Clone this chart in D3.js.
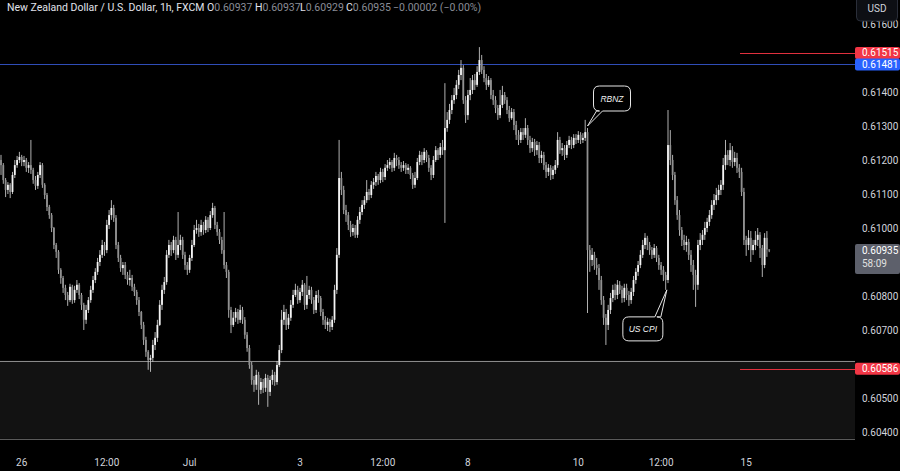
<!DOCTYPE html>
<html><head><meta charset="utf-8">
<script src="https://cdn.jsdelivr.net/npm/d3@7/dist/d3.min.js"></script>
<style>body{margin:0;background:#000;overflow:hidden}svg{display:block}</style>
</head><body>
<svg id="chart" width="900" height="471"></svg>
<script>
// ---- data (NZD/USD, 1h, FXCM) ----
const firstOpen = 0.61200;
const closes = [
0.61185,0.61141,0.61112,0.61127,0.61106,0.61156,0.61185,0.61200,0.61209,0.61194,
0.61200,0.61177,0.61185,0.61171,0.61141,0.61124,0.61156,0.61185,0.61127,0.61097,
0.61062,0.61038,0.61000,0.60950,0.60930,0.60877,0.60853,0.60824,0.60803,0.60788,
0.60827,0.60788,0.60818,0.60833,0.60803,0.60774,0.60730,0.60759,0.60788,0.60818,
0.60847,0.60871,0.60900,0.60921,0.60950,0.60935,0.61009,0.61038,0.61059,0.61030,
0.60950,0.60912,0.60882,0.60891,0.60862,0.60847,0.60853,0.60827,0.60812,0.60788,
0.60753,0.60715,0.60671,0.60636,0.60612,0.60618,0.60656,0.60677,0.60715,0.60774,
0.60818,0.60841,0.60921,0.60950,0.60935,0.60965,0.60921,0.60950,0.60965,0.60921,
0.60891,0.60877,0.60912,0.60950,0.60994,0.61000,0.60988,0.61009,0.60994,0.61024,
0.61000,0.61038,0.61059,0.61009,0.60988,0.60965,0.60935,0.60891,0.60871,0.60759,
0.60715,0.60736,0.60753,0.60730,0.60759,0.60730,0.60686,0.60647,0.60597,0.60553,
0.60539,0.60568,0.60524,0.60547,0.60530,0.60559,0.60518,0.60553,0.60568,0.60547,
0.60597,0.60641,0.60730,0.60753,0.60715,0.60736,0.60774,0.60803,0.60818,0.60788,
0.60812,0.60833,0.60774,0.60803,0.60818,0.60788,0.60759,0.60803,0.60794,0.60753,
0.60730,0.60715,0.60724,0.60709,0.60730,0.60818,0.60921,0.61147,0.61112,0.61053,
0.61038,0.61009,0.60988,0.61000,0.60980,0.61024,0.61047,0.61068,0.61082,0.61106,
0.61097,0.61127,0.61135,0.61153,0.61141,0.61165,0.61150,0.61177,0.61185,0.61194,
0.61177,0.61206,0.61200,0.61185,0.61177,0.61185,0.61171,0.61177,0.61156,0.61127,
0.61147,0.61194,0.61215,0.61200,0.61224,0.61206,0.61177,0.61156,0.61200,0.61229,
0.61215,0.61238,0.61229,0.61294,0.61318,0.61347,0.61376,0.61391,0.61421,0.61450,
0.61471,0.61376,0.61332,0.61391,0.61406,0.61435,0.61421,0.61459,0.61494,0.61465,
0.61441,0.61421,0.61435,0.61391,0.61376,0.61353,0.61332,0.61362,0.61391,0.61376,
0.61347,0.61323,0.61341,0.61303,0.61274,0.61259,0.61282,0.61274,0.61294,0.61259,
0.61235,0.61253,0.61229,0.61244,0.61206,0.61215,0.61185,0.61165,0.61177,0.61156,
0.61171,0.61185,0.61259,0.61229,0.61235,0.61215,0.61244,0.61259,0.61244,0.61265,
0.61259,0.61274,0.61259,0.61265,0.61282,0.60935,0.60906,0.60921,0.60891,0.60882,
0.60847,0.60788,0.60736,0.60715,0.60759,0.60794,0.60818,0.60803,0.60833,0.60818,
0.60794,0.60824,0.60803,0.60788,0.60812,0.60847,0.60871,0.60891,0.60921,0.60950,
0.60971,0.60950,0.60935,0.60921,0.60941,0.60912,0.60891,0.60877,0.60862,0.60847,
0.61244,0.61200,0.61156,0.61082,0.61038,0.60994,0.60965,0.60950,0.60959,0.60921,
0.60891,0.60862,0.60833,0.60950,0.60965,0.60980,0.61000,0.61018,0.61038,0.61068,
0.61082,0.61097,0.61112,0.61127,0.61185,0.61215,0.61200,0.61229,0.61194,0.61206,
0.61177,0.61165,0.61106,0.60965,0.60950,0.60971,0.60935,0.60950,0.60965,0.60980,
0.60941,0.60891,0.60971,0.60937,0.60935
];
const highs = [
0.61215,0.61191,0.61147,0.61135,0.61132,0.61165,0.61200,0.61212,0.61224,0.61215,
0.61212,0.61206,0.61194,0.61259,0.61177,0.61153,0.61165,0.61194,0.61191,0.61132,
0.61103,0.61068,0.61044,0.61003,0.60956,0.60935,0.60882,0.60859,0.60833,0.60812,
0.60836,0.60833,0.60830,0.60847,0.60838,0.60809,0.60780,0.60774,0.60797,0.60830,
0.60859,0.60882,0.60912,0.60935,0.60965,0.60959,0.61024,0.61053,0.61082,0.61068,
0.61038,0.60959,0.60921,0.60900,0.60900,0.60871,0.60877,0.60862,0.60836,0.60818,
0.60797,0.60756,0.60724,0.60680,0.60641,0.60627,0.60671,0.60694,0.60730,0.60788,
0.60833,0.60856,0.60935,0.60965,0.60959,0.60977,0.60974,0.61047,0.60980,0.60974,
0.60930,0.60900,0.60921,0.60965,0.61009,0.61024,0.61012,0.61024,0.61018,0.61035,
0.61032,0.61050,0.61074,0.61065,0.61018,0.60997,0.60974,0.61047,0.60900,0.60877,
0.60768,0.60753,0.60765,0.60762,0.60774,0.60768,0.60738,0.60694,0.60656,0.60606,
0.60565,0.60583,0.60577,0.60559,0.60556,0.60571,0.60568,0.60565,0.60583,0.60577,
0.60609,0.60656,0.60759,0.60774,0.60762,0.60747,0.60788,0.60818,0.60836,0.60830,
0.60824,0.60847,0.60838,0.60859,0.60830,0.60827,0.60797,0.60815,0.60818,0.60800,
0.60762,0.60741,0.60736,0.60733,0.60741,0.60833,0.60941,0.61259,0.61165,0.61124,
0.61068,0.61047,0.61021,0.61012,0.61009,0.61035,0.61062,0.61082,0.61094,0.61141,
0.61115,0.61138,0.61147,0.61165,0.61159,0.61177,0.61174,0.61188,0.61200,0.61206,
0.61200,0.61221,0.61215,0.61209,0.61194,0.61197,0.61191,0.61188,0.61182,0.61162,
0.61165,0.61206,0.61227,0.61224,0.61235,0.61229,0.61215,0.61185,0.61212,0.61241,
0.61235,0.61250,0.61259,0.61426,0.61341,0.61365,0.61391,0.61412,0.61435,0.61465,
0.61494,0.61479,0.61388,0.61406,0.61441,0.61450,0.61453,0.61476,0.61532,0.61509,
0.61476,0.61453,0.61447,0.61441,0.61406,0.61388,0.61362,0.61406,0.61418,0.61400,
0.61385,0.61359,0.61353,0.61350,0.61315,0.61288,0.61294,0.61294,0.61323,0.61303,
0.61271,0.61265,0.61262,0.61256,0.61253,0.61227,0.61224,0.61194,0.61188,0.61185,
0.61182,0.61200,0.61282,0.61268,0.61250,0.61244,0.61256,0.61271,0.61268,0.61276,
0.61276,0.61285,0.61282,0.61279,0.61318,0.61294,0.60950,0.60941,0.60930,0.60912,
0.60894,0.60859,0.60800,0.60747,0.60774,0.60809,0.60833,0.60836,0.60847,0.60844,
0.60830,0.60836,0.60836,0.60815,0.60824,0.60859,0.60882,0.60903,0.60935,0.60965,
0.60985,0.60977,0.60959,0.60944,0.60953,0.60947,0.60921,0.60900,0.60888,0.60871,
0.61347,0.61288,0.61215,0.61165,0.61094,0.61053,0.61003,0.60980,0.60977,0.60968,
0.60935,0.60906,0.60877,0.60965,0.60985,0.60994,0.61018,0.61030,0.61053,0.61082,
0.61100,0.61118,0.61127,0.61141,0.61206,0.61259,0.61229,0.61250,0.61241,0.61224,
0.61221,0.61188,0.61177,0.61118,0.60977,0.60994,0.60991,0.60965,0.60991,0.61000,
0.60988,0.60950,0.60985,0.60991,0.60937
];
const lows = [
0.61156,0.61130,0.61091,0.61100,0.61088,0.61100,0.61147,0.61177,0.61191,0.61182,
0.61182,0.61165,0.61162,0.61159,0.61130,0.61112,0.61115,0.61147,0.61118,0.61085,
0.61050,0.61027,0.60988,0.60938,0.60912,0.60865,0.60836,0.60809,0.60788,0.60771,
0.60782,0.60777,0.60780,0.60809,0.60791,0.60759,0.60700,0.60718,0.60750,0.60780,
0.60809,0.60838,0.60862,0.60888,0.60912,0.60918,0.60926,0.60997,0.61024,0.61018,
0.60938,0.60900,0.60871,0.60862,0.60850,0.60833,0.60830,0.60815,0.60800,0.60774,
0.60741,0.60703,0.60656,0.60621,0.60583,0.60577,0.60606,0.60641,0.60665,0.60712,
0.60759,0.60806,0.60833,0.60912,0.60918,0.60926,0.60906,0.60912,0.60935,0.60909,
0.60877,0.60862,0.60868,0.60903,0.60944,0.60983,0.60974,0.60977,0.60980,0.60985,
0.60988,0.60994,0.61030,0.60997,0.60977,0.60953,0.60924,0.60880,0.60853,0.60736,
0.60691,0.60709,0.60724,0.60718,0.60721,0.60718,0.60674,0.60636,0.60586,0.60539,
0.60518,0.60524,0.60480,0.60512,0.60515,0.60518,0.60474,0.60506,0.60539,0.60536,
0.60539,0.60591,0.60632,0.60715,0.60700,0.60703,0.60727,0.60765,0.60797,0.60777,
0.60780,0.60800,0.60759,0.60762,0.60791,0.60777,0.60747,0.60750,0.60780,0.60741,
0.60715,0.60703,0.60697,0.60694,0.60700,0.60721,0.60806,0.60912,0.61097,0.61041,
0.61018,0.60994,0.60974,0.60977,0.60971,0.60971,0.61012,0.61038,0.61056,0.61074,
0.61082,0.61088,0.61115,0.61124,0.61127,0.61132,0.61135,0.61141,0.61168,0.61174,
0.61165,0.61168,0.61182,0.61174,0.61165,0.61168,0.61159,0.61159,0.61144,0.61115,
0.61118,0.61141,0.61185,0.61185,0.61191,0.61194,0.61165,0.61141,0.61147,0.61194,
0.61200,0.61206,0.61215,0.61015,0.61283,0.61306,0.61335,0.61365,0.61379,0.61409,
0.61435,0.61365,0.61309,0.61318,0.61376,0.61394,0.61406,0.61415,0.61450,0.61453,
0.61429,0.61406,0.61415,0.61379,0.61362,0.61338,0.61318,0.61323,0.61353,0.61365,
0.61335,0.61312,0.61318,0.61288,0.61259,0.61244,0.61250,0.61259,0.61265,0.61244,
0.61221,0.61224,0.61212,0.61215,0.61191,0.61191,0.61171,0.61147,0.61153,0.61141,
0.61144,0.61159,0.61177,0.61218,0.61212,0.61200,0.61206,0.61235,0.61232,0.61235,
0.61247,0.61250,0.61247,0.61250,0.61256,0.60750,0.60871,0.60888,0.60877,0.60862,
0.60818,0.60774,0.60715,0.60656,0.60700,0.60747,0.60782,0.60788,0.60791,0.60806,
0.60780,0.60782,0.60788,0.60771,0.60777,0.60800,0.60836,0.60859,0.60882,0.60912,
0.60938,0.60935,0.60921,0.60909,0.60912,0.60900,0.60877,0.60862,0.60844,0.60818,
0.60838,0.61185,0.61141,0.61068,0.61024,0.60977,0.60947,0.60935,0.60930,0.60906,
0.60871,0.60818,0.60768,0.60818,0.60935,0.60950,0.60965,0.60988,0.61006,0.61027,
0.61053,0.61068,0.61082,0.61097,0.61112,0.61171,0.61185,0.61182,0.61177,0.61182,
0.61162,0.61147,0.61094,0.60950,0.60918,0.60935,0.60900,0.60921,0.60935,0.60947,
0.60912,0.60856,0.60882,0.60915,0.60929
];
const xTickIndex  = [9, 46, 82, 130, 166, 203, 251, 287, 324];
const xTickLabels = ["26", "12:00", "Jul", "3", "12:00", "8", "10", "12:00", "15"];
// visible price-axis ticks (0.60600, 0.60900 and 0.61500 sit behind the price labels)
const yTicks = [0.604, 0.605, 0.607, 0.608, 0.610, 0.611, 0.612, 0.613, 0.614, 0.616];
const supportZone = [0.60380, 0.60610];
const resistanceLevel = 0.61481;
const redLevels = [0.61515, 0.60586];
const lastPrice = 0.60935;
const countdown = "58:09";
const ohlcLast = {o: "0.60937", h: "0.60937", l: "0.60929", c: "0.60935", chg: "\u22120.00002 (\u22120.00%)"};
const title = "New Zealand Dollar / U.S. Dollar, 1h, FXCM";
const events = [
  {label: "RBNZ", index: 255, price: 0.61300, side: "below"},
  {label: "US CPI", index: 289.5, price: 0.60818, side: "above"}
];

// ---- build ----
const candles = closes.map((c, i) => ({i, o: i === 0 ? firstOpen : closes[i - 1], h: highs[i], l: lows[i], c}));

const W = 900, H = 471, plotR = 855, plotB = 440;
const svg = d3.select("#chart");
svg.append("rect").attr("width", W).attr("height", H).attr("fill", "#000");

const x = d3.scaleLinear().domain([0, 370]).range([1, 852]);
const y = d3.scaleLinear().domain([0.603765, 0.616706]).range([plotB, 0]);
const py = v => Math.round(y(v)) + 0.5;

// support zone
const zone = svg.append("g");
zone.append("rect").attr("x", 0).attr("width", plotR)
  .attr("y", y(supportZone[1])).attr("height", y(supportZone[0]) - y(supportZone[1]))
  .attr("fill", "#121212");
zone.append("line").attr("x1", 0).attr("x2", plotR).attr("y1", py(supportZone[1])).attr("y2", py(supportZone[1]))
  .attr("stroke", "#8a8a8a").attr("stroke-width", 1);
zone.append("line").attr("x1", 0).attr("x2", plotR).attr("y1", py(supportZone[0])).attr("y2", py(supportZone[0]))
  .attr("stroke", "#5a5a5a").attr("stroke-width", 1);

// resistance line
svg.append("line").attr("x1", 0).attr("x2", plotR)
  .attr("y1", py(resistanceLevel)).attr("y2", py(resistanceLevel))
  .attr("stroke", "#2f4db8").attr("stroke-width", 1);
// red level lines
svg.selectAll("line.red").data(redLevels).join("line").attr("class", "red")
  .attr("x1", 740).attr("x2", plotR)
  .attr("y1", d => py(d)).attr("y2", d => py(d))
  .attr("stroke", "#e0303e").attr("stroke-width", 1);

// candles
const bw = 1.8;
const cg = svg.append("g");
cg.selectAll("line.wick").data(candles).join("line").attr("class", "wick")
  .attr("x1", d => x(d.i)).attr("x2", d => x(d.i))
  .attr("y1", d => y(d.h)).attr("y2", d => y(d.l))
  .attr("stroke", "#c4c4c4").attr("stroke-width", 0.9);
cg.selectAll("rect.body").data(candles).join("rect").attr("class", "body")
  .attr("x", d => x(d.i) - bw / 2).attr("width", bw)
  .attr("y", d => y(Math.max(d.o, d.c)))
  .attr("height", d => Math.max(1, Math.abs(y(d.o) - y(d.c))))
  .attr("fill", d => d.c >= d.o ? "#f4f4f4" : "#909090");

// callouts
function bubble(e) {
  const tx = x(e.index), ty = y(e.price);
  const g = svg.append("g");
  let bx, by, w, h, r = 6, p;
  if (e.side === "below") {
    w = 37; h = 25; bx = tx + 6; by = ty - 40;
    const t1 = tx + 9, t2 = tx + 15;
    p = `M${bx + r},${by} H${bx + w - r} Q${bx + w},${by} ${bx + w},${by + r} V${by + h - r} Q${bx + w},${by + h} ${bx + w - r},${by + h} H${t2} L${tx},${ty} L${t1},${by + h} H${bx + r} Q${bx},${by + h} ${bx},${by + h - r} V${by + r} Q${bx},${by} ${bx + r},${by} Z`;
  } else {
    w = 40; h = 24; bx = tx - 44; by = ty + 27;
    const t1 = tx - 12, t2 = tx - 6;
    p = `M${bx + r},${by} H${t1} L${tx},${ty} L${t2},${by} H${bx + w - r} Q${bx + w},${by} ${bx + w},${by + r} V${by + h - r} Q${bx + w},${by + h} ${bx + w - r},${by + h} H${bx + r} Q${bx},${by + h} ${bx},${by + h - r} V${by + r} Q${bx},${by} ${bx + r},${by} Z`;
  }
  g.append("path").attr("d", p).attr("fill", "#000").attr("stroke", "#e6e6e6").attr("stroke-width", 1);
  g.append("text").attr("x", bx + w / 2).attr("y", by + h / 2 + 3).attr("text-anchor", "middle")
    .attr("font-family", "Liberation Sans, Arial, sans-serif").attr("font-style", "italic")
    .attr("font-size", 8.5).attr("fill", "#f0f0f0").text(e.label);
}
events.forEach(bubble);

// right axis
const font = "Roboto, 'Liberation Sans', Arial, sans-serif";
const ax = svg.append("g");
ax.append("rect").attr("x", plotR).attr("y", 0).attr("width", W - plotR).attr("height", H).attr("fill", "#000");
ax.selectAll("text.yt").data(yTicks).join("text").attr("class", "yt")
  .attr("x", 862).attr("y", d => y(d) + 3.5)
  .attr("font-family", font).attr("font-size", 10).attr("fill", "#d1d4dc")
  .text(d => d3.format(".5f")(d));

// USD box
ax.append("rect").attr("x", 856.5).attr("y", -4).attr("width", 41).attr("height", 25).attr("rx", 4)
  .attr("fill", "#0d0f14").attr("stroke", "#2a2e39");
ax.append("text").attr("x", 877).attr("y", 12).attr("text-anchor", "middle")
  .attr("font-family", font).attr("font-size", 10).attr("fill", "#d1d4dc").text("USD");

function priceLabel(v, color, extra) {
  const yy = y(v);
  const hgt = extra ? 30 : 12;
  ax.append("rect").attr("x", plotR).attr("y", yy - 6).attr("width", W - plotR).attr("height", hgt).attr("rx", 2).attr("fill", color);
  ax.append("text").attr("x", 862).attr("y", yy + 3.5).attr("font-family", font).attr("font-size", 10)
    .attr("fill", "#ffffff").text(d3.format(".5f")(v));
  if (extra) ax.append("text").attr("x", 862).attr("y", yy + 17).attr("font-family", font).attr("font-size", 10)
    .attr("fill", "#e0e0e0").text(extra);
}
priceLabel(redLevels[0], "#f23645");
priceLabel(resistanceLevel, "#2962ff");
priceLabel(redLevels[1], "#f23645");
priceLabel(lastPrice, "#5d606b", countdown);

// bottom axis
svg.selectAll("text.xt").data(xTickIndex).join("text").attr("class", "xt")
  .attr("x", d => x(d)).attr("y", 466).attr("text-anchor", "middle")
  .attr("font-family", font).attr("font-size", 10).attr("fill", "#d1d4dc")
  .text((d, i) => xTickLabels[i]);

// title / legend
const tg = svg.append("g").attr("font-family", font).attr("font-size", 10.5);
tg.append("text").attr("x", 7).attr("y", 11).attr("fill", "#e0e3eb").text(title);
const parts = [["O", ohlcLast.o, 207], ["H", ohlcLast.h, 255], ["L", ohlcLast.l, 300], ["C", ohlcLast.c, 346]];
parts.forEach(([k, v, px]) => {
  const t = tg.append("text").attr("x", px).attr("y", 11);
  t.append("tspan").attr("fill", "#e0e3eb").text(k);
  t.append("tspan").attr("fill", "#8a8d96").text(v);
});
tg.append("text").attr("x", 393).attr("y", 11).attr("fill", "#8a8d96").text(ohlcLast.chg);
</script>
</body></html>
